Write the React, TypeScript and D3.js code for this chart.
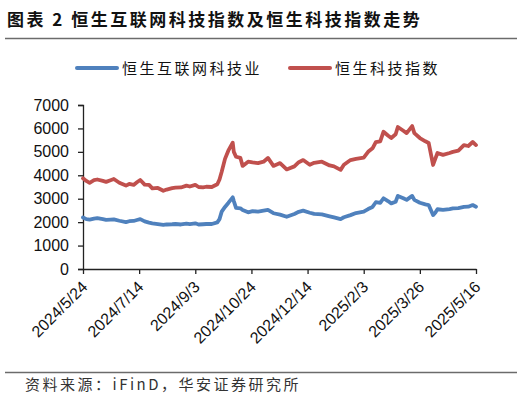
import { useEffect, useRef } from "react";
import * as d3 from "d3";

const dates = [
  "2024-05-24", "2024-05-27", "2024-05-30", "2024-06-03", "2024-06-06", "2024-06-11", "2024-06-14",
  "2024-06-18", "2024-06-21", "2024-06-26", "2024-07-02", "2024-07-05", "2024-07-09", "2024-07-12",
  "2024-07-15", "2024-07-19", "2024-07-23", "2024-07-26", "2024-07-31", "2024-08-05", "2024-08-08",
  "2024-08-13", "2024-08-16", "2024-08-21", "2024-08-26", "2024-08-29", "2024-09-03", "2024-09-06",
  "2024-09-10", "2024-09-13", "2024-09-18", "2024-09-23", "2024-09-25", "2024-09-27", "2024-09-30",
  "2024-10-03", "2024-10-07", "2024-10-08", "2024-10-10", "2024-10-14", "2024-10-16", "2024-10-21",
  "2024-10-25", "2024-10-30", "2024-11-04", "2024-11-08", "2024-11-13", "2024-11-19", "2024-11-25",
  "2024-12-02", "2024-12-06", "2024-12-10", "2024-12-16", "2024-12-20", "2024-12-27", "2025-01-03",
  "2025-01-07", "2025-01-13", "2025-01-16", "2025-01-22", "2025-01-27", "2025-02-03", "2025-02-07",
  "2025-02-11", "2025-02-14", "2025-02-18", "2025-02-21", "2025-02-25", "2025-02-28", "2025-03-04",
  "2025-03-06", "2025-03-11", "2025-03-14", "2025-03-19", "2025-03-21", "2025-03-26", "2025-03-31",
  "2025-04-03", "2025-04-07", "2025-04-09", "2025-04-11", "2025-04-16", "2025-04-22", "2025-04-25",
  "2025-04-30", "2025-05-05", "2025-05-09", "2025-05-13", "2025-05-16",
];

// 恒生互联网科技业
const hsInternet = [
  2200, 2130, 2110, 2150, 2170, 2130, 2100,
  2110, 2120, 2060, 2000, 2040, 2050, 2090,
  2130, 2030, 1980, 1950, 1920, 1880, 1900,
  1910, 1920, 1900, 1940, 1920, 1950, 1900,
  1910, 1920, 1920, 1990, 2130, 2450, 2650,
  2820, 3060, 2900, 2610, 2590, 2520, 2420,
  2470, 2450, 2490, 2520, 2380, 2320, 2230,
  2350, 2440, 2490, 2400, 2350, 2330, 2250,
  2200, 2130, 2210, 2300, 2390, 2450, 2560,
  2650, 2850, 2820, 3020, 2900, 2800, 2870,
  3120, 3020, 2950, 3120, 2950, 2830, 2760,
  2730, 2300, 2400, 2550, 2520, 2560, 2590,
  2600, 2650, 2660, 2730, 2660,
];

// 恒生科技指数
const hsTech = [
  3870, 3760, 3680, 3790, 3820, 3760, 3720,
  3790, 3840, 3680, 3560, 3630, 3590, 3700,
  3800, 3600, 3590, 3440, 3460, 3340, 3390,
  3450, 3470, 3480, 3560, 3520, 3590, 3500,
  3480, 3510, 3500, 3620, 3820, 4150, 4700,
  5050, 5390, 5000, 4790, 4740, 4400, 4580,
  4550, 4520, 4580, 4740, 4400, 4520, 4250,
  4380, 4560, 4650, 4450, 4530, 4580, 4420,
  4380, 4230, 4450, 4650, 4700, 4750, 5000,
  5150, 5420, 5450, 5860, 5700, 5590, 5750,
  6060, 5900, 5800, 6100, 5800, 5590, 5450,
  5380, 4440, 4700, 4950, 4870, 4950, 5000,
  5050, 5290, 5250, 5420, 5290,
];

const xTickDates = [
  "2024-05-24", "2024-07-14", "2024-09-03", "2024-10-24",
  "2024-12-14", "2025-02-03", "2025-03-26", "2025-05-16",
];
const xTickLabels = [
  "2024/5/24", "2024/7/14", "2024/9/3", "2024/10/24",
  "2024/12/14", "2025/2/3", "2025/3/26", "2025/5/16",
];
const yTicks = [0, 1000, 2000, 3000, 4000, 5000, 6000, 7000];

const seriesNames = ["恒生互联网科技业", "恒生科技指数"];
const seriesColors = ["#4F81BD", "#C0504D"];

const W = 527;
const H = 399;
const CJK = "'Noto Sans CJK SC', sans-serif";

export default function App() {
  const svgRef = useRef<SVGSVGElement>(null);

  useEffect(() => {
    if (!svgRef.current) return;
    document.body.style.margin = "0";

    const svg = d3.select(svgRef.current);
    svg.selectAll("*").remove();

    const parse = d3.timeParse("%Y-%m-%d");
    const xs = dates.map((d) => parse(d) as Date);

    const x = d3
      .scaleTime()
      .domain([parse("2024-05-24") as Date, parse("2025-05-16") as Date])
      .range([83, 476]);
    const y = d3.scaleLinear().domain([0, 7000]).range([269, 105]);

    // Title
    svg.append("text")
      .attr("x", 7)
      .attr("y", 26)
      .style("font-family", CJK)
      .style("font-weight", 700)
      .style("font-size", "17px")
      .style("letter-spacing", "2.5px")
      .attr("fill", "#111")
      .text("图表 2 恒生互联网科技指数及恒生科技指数走势");

    svg.append("line")
      .attr("x1", 5).attr("x2", 517)
      .attr("y1", 38.5).attr("y2", 38.5)
      .attr("stroke", "#6b6b6b")
      .attr("stroke-width", 1.5);

    // Legend
    const legendX = [77, 290];
    seriesNames.forEach((name, i) => {
      svg.append("line")
        .attr("x1", legendX[i]).attr("x2", legendX[i] + 40)
        .attr("y1", 68).attr("y2", 68)
        .attr("stroke", seriesColors[i])
        .attr("stroke-width", 4)
        .attr("stroke-linecap", "round");
      svg.append("text")
        .attr("x", legendX[i] + 45)
        .attr("y", 74)
        .style("font-family", CJK)
        .style("font-size", "15px")
        .style("letter-spacing", "2.5px")
        .attr("fill", "#111")
        .text(name);
    });

    // Axes
    const yAxis = svg.append("g")
      .attr("transform", "translate(83,0)")
      .call(
        d3.axisLeft(y)
          .tickValues(yTicks)
          .tickSize(5)
          .tickPadding(9)
          .tickFormat((d) => String(d))
      );
    yAxis.select(".domain").attr("stroke", "#222").attr("stroke-width", 1.3);
    yAxis.selectAll(".tick line").attr("stroke", "#222").attr("stroke-width", 1.3);
    yAxis.selectAll(".tick text")
      .style("font-family", "'Liberation Sans', Arial, sans-serif")
      .style("font-size", "16px")
      .attr("fill", "#111");

    const xAxis = svg.append("g")
      .attr("transform", "translate(0,269)")
      .call(
        d3.axisBottom(x)
          .tickValues(xTickDates.map((d) => parse(d) as Date))
          .tickSize(5)
          .tickSizeOuter(0)
          .tickFormat((_, i) => xTickLabels[i])
      );
    xAxis.select(".domain").attr("stroke", "#222").attr("stroke-width", 1.3);
    xAxis.selectAll(".tick line").attr("stroke", "#222").attr("stroke-width", 1.3);
    xAxis.selectAll(".tick text")
      .style("font-family", "'Liberation Sans', Arial, sans-serif")
      .style("font-size", "16px")
      .attr("fill", "#111")
      .attr("text-anchor", "end")
      .attr("dy", "0")
      .attr("y", 0)
      .attr("transform", "translate(5,19) rotate(-45)");

    // Lines
    [hsInternet, hsTech].forEach((vals, i) => {
      const line = d3
        .line<number>()
        .x((_, j) => x(xs[j]))
        .y((v) => y(v))
        .curve(d3.curveLinear);
      svg.append("path")
        .attr("d", line(vals) as string)
        .attr("fill", "none")
        .attr("stroke", seriesColors[i])
        .attr("stroke-width", 3.8)
        .attr("stroke-linejoin", "round")
        .attr("stroke-linecap", "round");
    });

    // Source
    svg.append("line")
      .attr("x1", 5).attr("x2", 517)
      .attr("y1", 372.5).attr("y2", 372.5)
      .attr("stroke", "#6b6b6b")
      .attr("stroke-width", 1.3);
    svg.append("text")
      .attr("x", 25)
      .attr("y", 390)
      .style("font-family", CJK)
      .style("font-size", "15px")
      .style("letter-spacing", "2.5px")
      .attr("fill", "#333")
      .text("资料来源：iFinD，华安证券研究所");
  }, []);

  return (
    <svg
      ref={svgRef}
      width={W}
      height={H}
      style={{ position: "absolute", left: 0, top: 0, background: "#fff" }}
    />
  );
}
